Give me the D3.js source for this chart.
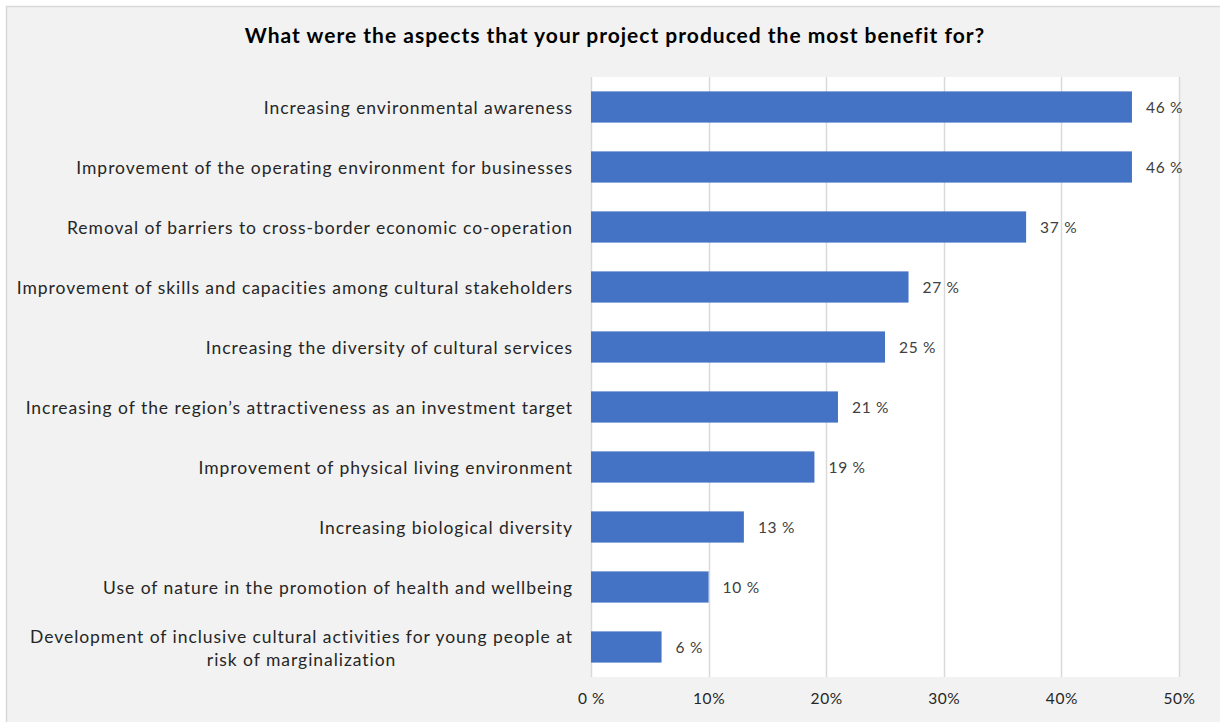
<!DOCTYPE html>
<html>
<head>
<meta charset="utf-8">
<script src="https://cdn.jsdelivr.net/npm/d3@7"></script>
<style>
  html, body { margin: 0; padding: 0; background: #ffffff; }
  svg { display: block; }
</style>
</head>
<body>
<svg id="chart" width="1220" height="722"></svg>
<script>
// Survey answers: share of projects reporting the most benefit per aspect
const categories = [
  "Increasing environmental awareness",
  "Improvement of the operating environment for businesses",
  "Removal of barriers to cross-border economic co-operation",
  "Improvement of skills and capacities among cultural stakeholders",
  "Increasing the diversity of cultural services",
  "Increasing of the region\u2019s attractiveness as an investment target",
  "Improvement of physical living environment",
  "Increasing biological diversity",
  "Use of nature in the promotion of health and wellbeing",
  "Development of inclusive cultural activities for young people at\nrisk of marginalization"
];
const values = [46, 46, 37, 27, 25, 21, 19, 13, 10, 6];
const tickValues = [0, 10, 20, 30, 40, 50];
const tickLabels = ["0 %", "10%", "20%", "30%", "40%", "50%"];
const title = "What were the aspects that your project produced the most benefit for?";

const W = 1220, H = 722;
const plot = { left: 591, right: 1179, top: 77, bottom: 677 };
const font = "Lato, 'Open Sans', sans-serif";
const catStyle = { size: 17.5, spacing: 0.95 };

const svg = d3.select("#chart");

// chart frame
svg.append("rect")
  .attr("x", 6.5).attr("y", 6.5)
  .attr("width", W + 10).attr("height", H + 10)
  .attr("fill", "#f2f2f2")
  .attr("stroke", "#d9d9d9").attr("stroke-width", 1.5);

// plot area
svg.append("rect")
  .attr("x", plot.left).attr("y", plot.top)
  .attr("width", plot.right - plot.left).attr("height", plot.bottom - plot.top)
  .attr("fill", "#ffffff");

const x = d3.scaleLinear().domain([0, 50]).range([plot.left, plot.right]);
const y = d3.scaleBand().domain(categories).range([plot.top, plot.bottom]).paddingInner(0.48).paddingOuter(0.24);

// vertical gridlines
svg.append("g")
  .selectAll("line")
  .data(tickValues)
  .join("line")
  .attr("x1", d => Math.round(x(d)) + 0.5).attr("x2", d => Math.round(x(d)) + 0.5)
  .attr("y1", plot.top).attr("y2", plot.bottom)
  .attr("stroke", "#d9d9d9").attr("stroke-width", 1.5);

// x axis labels
const xAxis = d3.axisBottom(x)
  .tickValues(tickValues)
  .tickFormat((d, i) => tickLabels[i])
  .tickSize(0)
  .tickPadding(16);
const gx = svg.append("g")
  .attr("transform", `translate(0,${plot.bottom})`)
  .call(xAxis);
gx.select(".domain").remove();
gx.selectAll("text")
  .attr("font-family", font).attr("font-size", 15.5).attr("letter-spacing", 0.6)
  .attr("fill", "#262626");

// bars
svg.append("g")
  .selectAll("rect")
  .data(values)
  .join("rect")
  .attr("x", x(0))
  .attr("y", (d, i) => y(categories[i]))
  .attr("width", d => x(d) - x(0))
  .attr("height", y.bandwidth())
  .attr("fill", "#4472c4");

// value labels
svg.append("g")
  .selectAll("text")
  .data(values)
  .join("text")
  .attr("x", d => x(d) + 14)
  .attr("y", (d, i) => y(categories[i]) + y.bandwidth() / 2 + 1)
  .attr("dy", "0.35em")
  .attr("font-family", font).attr("font-size", 15.5).attr("letter-spacing", 0.7)
  .attr("fill", "#404040")
  .text(d => `${d} %`);

// category labels (multi-line labels are centred on their widest line)
const catG = svg.append("g");
categories.forEach((c, i) => {
  const lines = c.split("\n");
  const cy = y(c) + y.bandwidth() / 2 + 1;
  const lh = 23;
  const t = catG.append("text")
    .attr("font-family", font).attr("font-size", catStyle.size)
    .attr("letter-spacing", catStyle.spacing).attr("fill", "#262626");
  if (lines.length === 1) {
    t.attr("x", plot.left - 18).attr("y", cy).attr("dy", "0.35em")
      .attr("text-anchor", "end").text(c);
  } else {
    // measure widest line to centre the block against the right edge
    const probe = catG.append("text").attr("font-family", font)
      .attr("font-size", catStyle.size).attr("letter-spacing", catStyle.spacing).text(lines[0]);
    const w = probe.node().getComputedTextLength();
    probe.remove();
    const cx = plot.left - 18 - w / 2;
    t.attr("text-anchor", "middle");
    lines.forEach((ln, k) => {
      t.append("tspan")
        .attr("x", cx)
        .attr("y", cy + (k - (lines.length - 1) / 2) * lh)
        .attr("dy", "0.35em")
        .text(ln);
    });
  }
});

// title
svg.append("text")
  .attr("x", 615).attr("y", 43)
  .attr("text-anchor", "middle")
  .attr("font-family", font).attr("font-size", 21).attr("font-weight", "bold")
  .attr("letter-spacing", 1.0)
  .attr("fill", "#000000")
  .text(title);
</script>
</body>
</html>
